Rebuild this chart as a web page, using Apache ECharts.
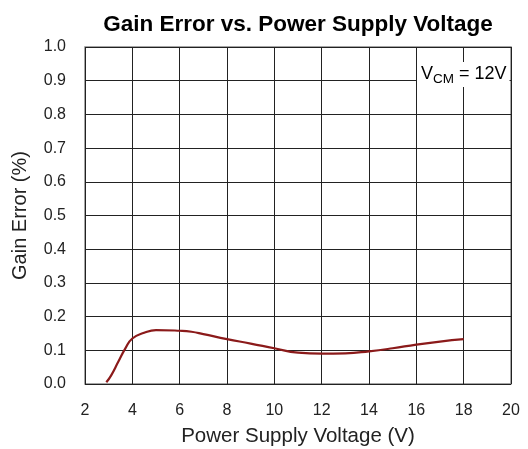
<!DOCTYPE html>
<html>
<head>
<meta charset="utf-8">
<script src="https://cdn.jsdelivr.net/npm/echarts@6/dist/echarts.min.js"></script>
<style>html,body{margin:0;padding:0;background:#fff;}#c{width:528px;height:449px;}</style>
</head>
<body>
<div id="c"></div>
<script>
const xTicks = [2, 4, 6, 8, 10, 12, 14, 16, 18, 20];
const yTicks = [0.0, 0.1, 0.2, 0.3, 0.4, 0.5, 0.6, 0.7, 0.8, 0.9, 1.0];
const supplyVoltage = [2.9, 3.1, 3.4, 3.7, 4.0, 4.5, 5.0, 6.0, 6.5, 7, 8, 9, 10, 11, 12, 13, 14, 15, 16, 17, 18];
const gainError = [0.005, 0.025, 0.065, 0.105, 0.135, 0.152, 0.160, 0.158, 0.155, 0.148, 0.133, 0.120, 0.106, 0.093, 0.090, 0.091, 0.097, 0.106, 0.117, 0.126, 0.133];

const chart = echarts.init(document.getElementById('c'));
const font = 'Liberation Sans, Arial, sans-serif';
chart.setOption({
  animation: false,
  title: {
    text: 'Gain Error vs. Power Supply Voltage',
    left: 293, top: 8, textAlign: 'center',
    textStyle: {fontFamily: font, fontWeight: 'bold', fontSize: 22.5, color: '#000'}
  },
  grid: {left: 85, right: 17, top: 47, bottom: 65, show: true, borderColor: '#888', borderWidth: 1.5, backgroundColor: 'transparent', containLabel: false, outerBoundsMode: 'none'},
  xAxis: {
    type: 'value', min: xTicks[0], max: xTicks[xTicks.length - 1], interval: 2,
    name: 'Power Supply Voltage (V)', nameLocation: 'middle', nameGap: 42,
    nameTextStyle: {fontFamily: font, fontSize: 20.5, color: '#222'},
    axisLine: {show: false}, axisTick: {show: false},
    axisLabel: {fontFamily: font, fontSize: 16, color: '#222', margin: 19},
    splitLine: {show: true, lineStyle: {color: '#222', width: 1}}
  },
  yAxis: {
    type: 'value', min: 0, max: 1, interval: 0.1,
    name: 'Gain Error (%)', nameLocation: 'middle', nameGap: 55,
    nameTextStyle: {fontFamily: font, fontSize: 20, color: '#222'},
    axisLine: {show: false}, axisTick: {show: false},
    axisLabel: {fontFamily: font, fontSize: 16, color: '#222', margin: 19, formatter: v => v.toFixed(1)},
    splitLine: {show: true, lineStyle: {color: '#222', width: 1}}
  },
  graphic: [{
    type: 'text', left: 417, top: 62, z: 100,
    style: {
      text: '{a|V}{b|CM}{a| = 12V}',
      backgroundColor: '#fff', padding: [1, 3, 1, 4],
      rich: {
        a: {fontFamily: font, fontSize: 18, color: '#333', lineHeight: 23},
        b: {fontFamily: font, fontSize: 13.5, color: '#333', lineHeight: 23, verticalAlign: 'bottom', padding: [7, 0, 0, 0]}
      }
    }
  }],
  series: [{
    type: 'line', smooth: true, showSymbol: false,
    data: supplyVoltage.map((x, i) => [x, gainError[i]]),
    lineStyle: {color: '#8b1a1a', width: 2.2}
  }]
});
</script>
</body>
</html>
